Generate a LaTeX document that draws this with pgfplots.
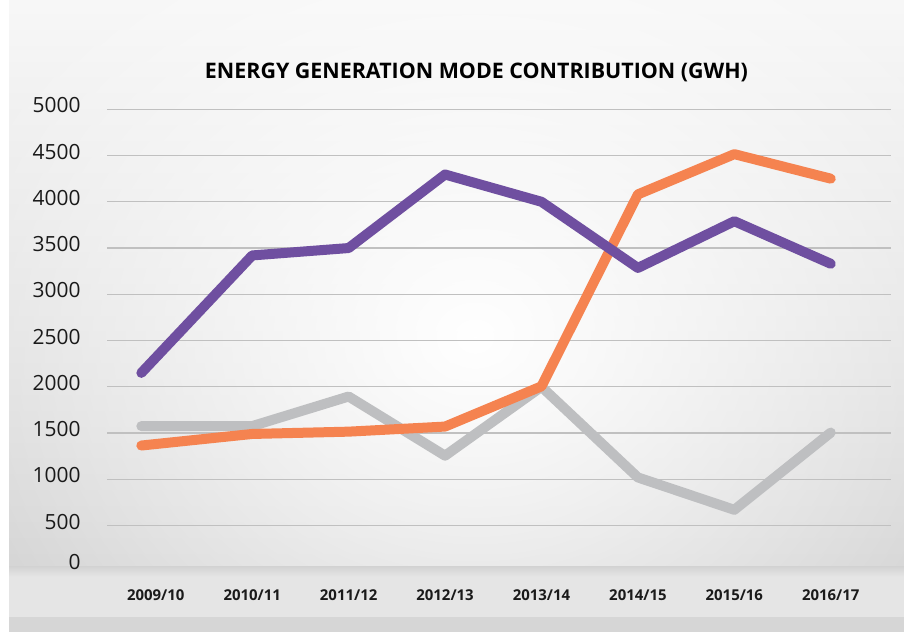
\documentclass[border=0pt]{standalone}
\usepackage{pgfplots}
\pgfplotsset{compat=1.18}
\usepackage{pgfplotstable}
\usepackage{fontspec}
\setmainfont{Open Sans}
\usetikzlibrary{fadings}
\definecolor{purp}{RGB}{111,79,160}
\definecolor{oran}{RGB}{245,131,80}
\definecolor{gry}{RGB}{190,191,193}
\definecolor{gridc}{RGB}{192,192,192}
\definecolor{txt}{RGB}{26,26,26}
\tikzfading[name=glow, inner color=transparent!0, outer color=transparent!100]

\pgfplotstableread{
x     purple orange gray
-0.15 2150   1365   1575
1     3420   1490   1575
2     3500   1515   1895
3     4295   1570   1255
4     4000   2005   2000
5     3285   4080   1020
6     3790   4515   670
7     3330   4250   1505
}\datatable

\begin{document}
\begin{tikzpicture}[x=1bp,y=1bp]
\useasboundingbox (0,0) rectangle (904,632);
\fill[white] (0,0) rectangle (904,632);
\shade[top color=black!3, bottom color=black!17] (9,65.3) rectangle (904,632);
\begin{scope}
\clip (9,65.3) rectangle (904,632);
\fill[white, path fading=glow] (475,295) ellipse (560 and 480);
\end{scope}
% bottom band
\shade[top color=black!17, bottom color=black!10] (9,55) rectangle (904,65.3);
\fill[black!10] (9,15.3) rectangle (904,55);
\fill[black!16] (9,0) rectangle (904,15.3);

\begin{axis}[
  at={(107bp,60.2bp)}, anchor=south west,
  scale only axis, width=784bp, height=462.5bp,
  xmin=-0.506, xmax=7.625, ymin=0, ymax=5000,
  axis line style={draw=none}, tick style={draw=none},
  major tick length=0pt,
  xtick={0,1,2,3,4,5,6,7},
  xticklabels={2009/10,2010/11,2011/12,2012/13,2013/14,2014/15,2015/16,2016/17},
  xticklabel style={anchor=center, inner sep=0pt, yshift=-23bp, font=\bfseries\fontsize{15}{18}\selectfont, text=txt},
  ytick={500,1000,...,5000},
  extra y ticks={0},
  extra y tick style={grid=none, yticklabel style={yshift=5.5bp}},
  yticklabel style={anchor=east, inner sep=0pt, xshift=-26.3bp, yshift=4bp, font=\fontsize{21}{25}\selectfont, text=txt},
  /pgf/number format/assume math mode=true,
  /pgf/number format/1000 sep={},
  ymajorgrids,
  grid style={gridc, line width=1.1bp},
  clip=false,
]
\addplot[gry, line width=10bp, line cap=round, line join=round] table[x=x, y=gray] {\datatable};
\addplot[oran, line width=10bp, line cap=round, line join=round] table[x=x, y=orange] {\datatable};
\addplot[purp, line width=10bp, line cap=round, line join=round] table[x=x, y=purple] {\datatable};
\end{axis}

\node[font=\bfseries\fontsize{21.5}{25}\selectfont, text=black] at (476.5,560) {ENERGY GENERATION MODE CONTRIBUTION (GWH)};
\end{tikzpicture}
\end{document}
